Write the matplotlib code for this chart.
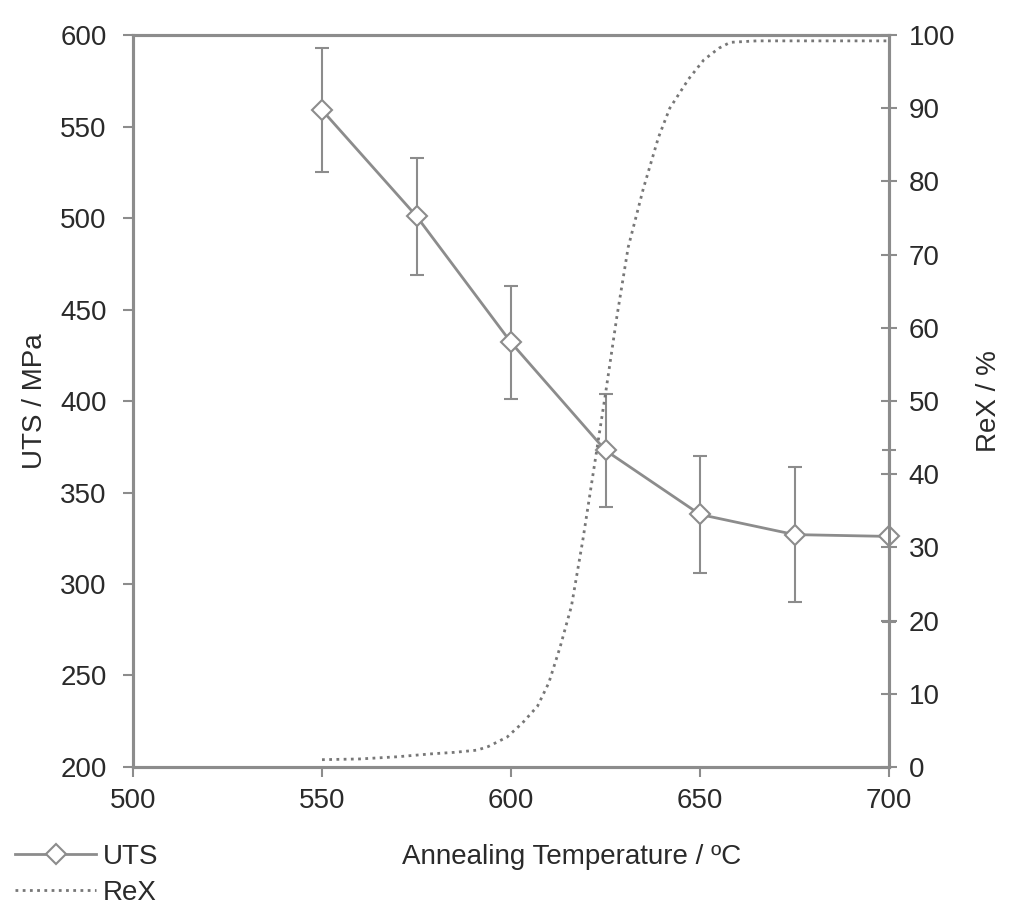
import matplotlib
matplotlib.use("Agg")
import matplotlib.pyplot as plt
from matplotlib.lines import Line2D

plt.rcParams['font.family'] = ['Liberation Sans', 'DejaVu Sans']

# UTS measurements
temp = [550, 575, 600, 625, 650, 675, 700]
uts = [559, 501, 432, 373, 338, 327, 326]
uts_err = [34, 32, 31, 31, 32, 37, 47]

# recrystallised fraction curve
rex_temp = [550, 560, 570, 579, 585, 591, 594, 599, 603, 607, 610, 613, 616, 619, 622, 625,
            628, 631, 635, 639, 642, 647, 651, 655, 658, 665, 680, 700]
rex_pct = [1.0, 1.1, 1.4, 1.8, 2.0, 2.3, 2.8, 4.1, 6.0, 8.3, 11.5, 16.4, 22, 31, 41, 51,
           61.5, 71, 79, 86, 90, 94, 96.6, 98.2, 99.0, 99.2, 99.2, 99.2]

grey = '#8c8c8c'
txt = '#2a2a2a'
fs = 20

fig = plt.figure(figsize=(10.13, 9.19), dpi=100)
ax = fig.add_axes([0.1313, 0.1654, 0.7463, 0.7965])
ax2 = ax.twinx()

ax.errorbar(temp, uts, yerr=uts_err, color=grey, lw=2, capsize=5, capthick=1.5,
            elinewidth=1.5, marker='D', ms=10, mfc='white', mec=grey, mew=1.5,
            clip_on=False, zorder=3)
ax2.plot(rex_temp, rex_pct, color='#777777', lw=2, linestyle=(0, (1, 1.6)))

ax.set_xlim(500, 700)
ax.set_ylim(200, 600)
ax2.set_ylim(0, 100)
ax.set_xticks(range(500, 701, 50))
ax.set_yticks(range(200, 601, 50))
ax2.set_yticks(range(0, 101, 10))

for a in (ax, ax2):
    for s in a.spines.values():
        s.set_color(grey)
        s.set_linewidth(2.2)
ax.tick_params(axis='both', direction='out', length=7, width=1.5, color=grey,
               labelsize=fs, labelcolor=txt, pad=8)
ax.tick_params(axis='y', pad=12)
ax2.tick_params(axis='y', direction='inout', length=12, width=1.5, color=grey,
                labelsize=fs, labelcolor=txt, pad=8)

ax.set_ylabel('UTS / MPa', fontsize=fs, color=txt)
ax.yaxis.set_label_coords(-0.112, 0.5)
ax2.set_ylabel('ReX / %', fontsize=fs, color=txt)
ax2.yaxis.set_label_coords(1.115, 0.5)
ax.set_xlabel('Annealing Temperature / \u00baC', fontsize=fs, color=txt)
ax.xaxis.set_label_coords(0.58, -0.105)

handles = [
    Line2D([], [], color=grey, lw=2, marker='D', ms=10, mfc='white', mec=grey, mew=1.5),
    Line2D([], [], color='#777777', lw=2, linestyle=(0, (1, 1.6))),
]
fig.legend(handles, ['UTS', 'ReX'], loc='upper left', bbox_to_anchor=(0.0, 0.098),
           frameon=False, fontsize=fs, labelcolor=txt, handlelength=2.9,
           handletextpad=0.25, labelspacing=0.35, borderaxespad=0.15)

fig.savefig('out.png', dpi=100)
